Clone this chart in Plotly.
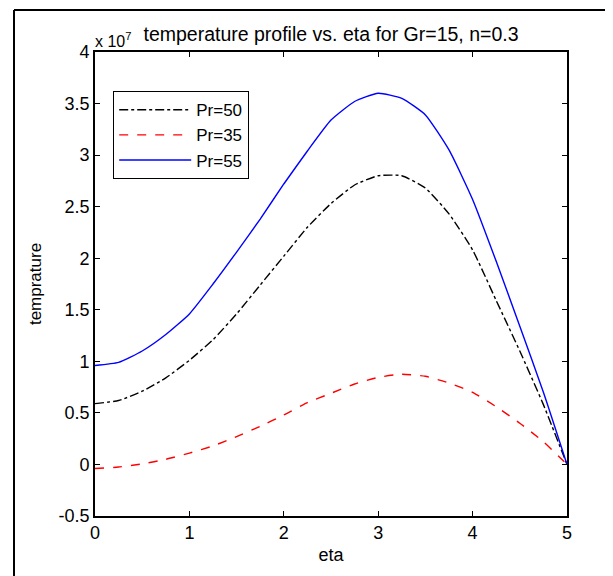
import plotly.graph_objects as go

eta = [0, 0.25, 0.5, 0.75, 1.0, 1.25, 1.5, 1.75, 2.0, 2.25, 2.5,
       2.75, 3.0, 3.25, 3.5, 3.75, 4.0, 4.25, 4.5, 4.75, 5.0]

pr50 = [0.59, 0.62, 0.71, 0.84, 1.01, 1.21, 1.46, 1.74, 2.02, 2.30, 2.53,
        2.71, 2.80, 2.80, 2.68, 2.43, 2.08, 1.59, 1.10, 0.58, 0.0]
pr35 = [-0.04, -0.025, 0.005, 0.05, 0.11, 0.18, 0.27, 0.37, 0.48, 0.60, 0.69,
        0.78, 0.845, 0.875, 0.855, 0.79, 0.70, 0.56, 0.40, 0.22, 0.0]
pr55 = [0.96, 0.99, 1.10, 1.26, 1.46, 1.75, 2.06, 2.38, 2.72, 3.04, 3.34,
        3.52, 3.60, 3.55, 3.39, 3.05, 2.57, 1.97, 1.34, 0.70, 0.0]

x_ticks = [0, 1, 2, 3, 4, 5]
x_ticktext = ["0", "1", "2", "3", "4", "5"]
y_ticks = [-0.5, 0, 0.5, 1, 1.5, 2, 2.5, 3, 3.5, 4]
y_ticktext = ["-0.5", "0", "0.5", "1", "1.5", "2", "2.5", "3", "3.5", "4"]

FONT = "Liberation Sans, Arial, sans-serif"

# figure is drawn with the page's 8px body margin
W, H = 605, 568
L, R, T, B = 87, 46, 44, 60
PW, PH = W - L - R, H - T - B

fig = go.Figure()
fig.add_trace(go.Scatter(x=eta, y=pr50, mode="lines", name="Pr=50",
                         line=dict(color="black", width=1.4, dash="dashdot",
                                   shape="spline", smoothing=0.5)))
fig.add_trace(go.Scatter(x=eta, y=pr35, mode="lines", name="Pr=35",
                         line=dict(color="#ff0000", width=1.4, dash="dash",
                                   shape="spline", smoothing=0.5)))
fig.add_trace(go.Scatter(x=eta, y=pr55, mode="lines", name="Pr=55",
                         line=dict(color="#0000ff", width=1.4,
                                   shape="spline", smoothing=0.5)))

axis_common = dict(showline=True, linecolor="black", linewidth=1.6, mirror="ticks",
                   ticks="inside", ticklen=5, tickcolor="black", tickwidth=1.2,
                   showgrid=False, zeroline=False,
                   tickfont=dict(family=FONT, size=18, color="black"))

fig.update_layout(
    width=W, height=H,
    margin=dict(l=L, r=R, t=T, b=B),
    paper_bgcolor="white", plot_bgcolor="white",
    font=dict(family=FONT, size=17, color="black"),
    title=dict(text="temperature profile vs. eta for Gr=15, n=0.3",
               x=(L + PW / 2) / W, xanchor="center", y=1 - 26 / H, yanchor="middle",
               font=dict(family=FONT, size=19.5, color="black")),
    xaxis=dict(range=[0, 5], tickvals=x_ticks, ticktext=x_ticktext,
               title=dict(text="eta", font=dict(family=FONT, size=18), standoff=6),
               **axis_common),
    yaxis=dict(range=[-0.5, 4], tickvals=y_ticks, ticktext=y_ticktext,
               title=dict(text="temprature", font=dict(family=FONT, size=17), standoff=13),
               **axis_common),
    legend=dict(x=(105 - L) / PW, y=(H - B - 83) / PH, xanchor="left", yanchor="top",
                bordercolor="black", borderwidth=1.2, bgcolor="white",
                font=dict(family=FONT, size=17, color="black"),
                itemwidth=72),
    showlegend=True,
)

fig.add_annotation(xref="paper", yref="paper", x=0, y=1, xanchor="left", yanchor="bottom",
                   yshift=0, xshift=-2, text="x 10<sup>7</sup>", showarrow=False,
                   font=dict(family=FONT, size=16, color="black"))

# outer frame lines (left and top)
fx = (6 - L) / PW
fy = (H - B - 2) / PH
fig.add_shape(type="line", xref="paper", yref="paper",
              x0=fx, x1=fx, y0=fy, y1=-(B + 10) / PH,
              line=dict(color="black", width=2))
fig.add_shape(type="line", xref="paper", yref="paper",
              x0=fx, x1=(W + 10 - L) / PW, y0=fy, y1=fy,
              line=dict(color="black", width=2))

fig.write_html("out.html")
